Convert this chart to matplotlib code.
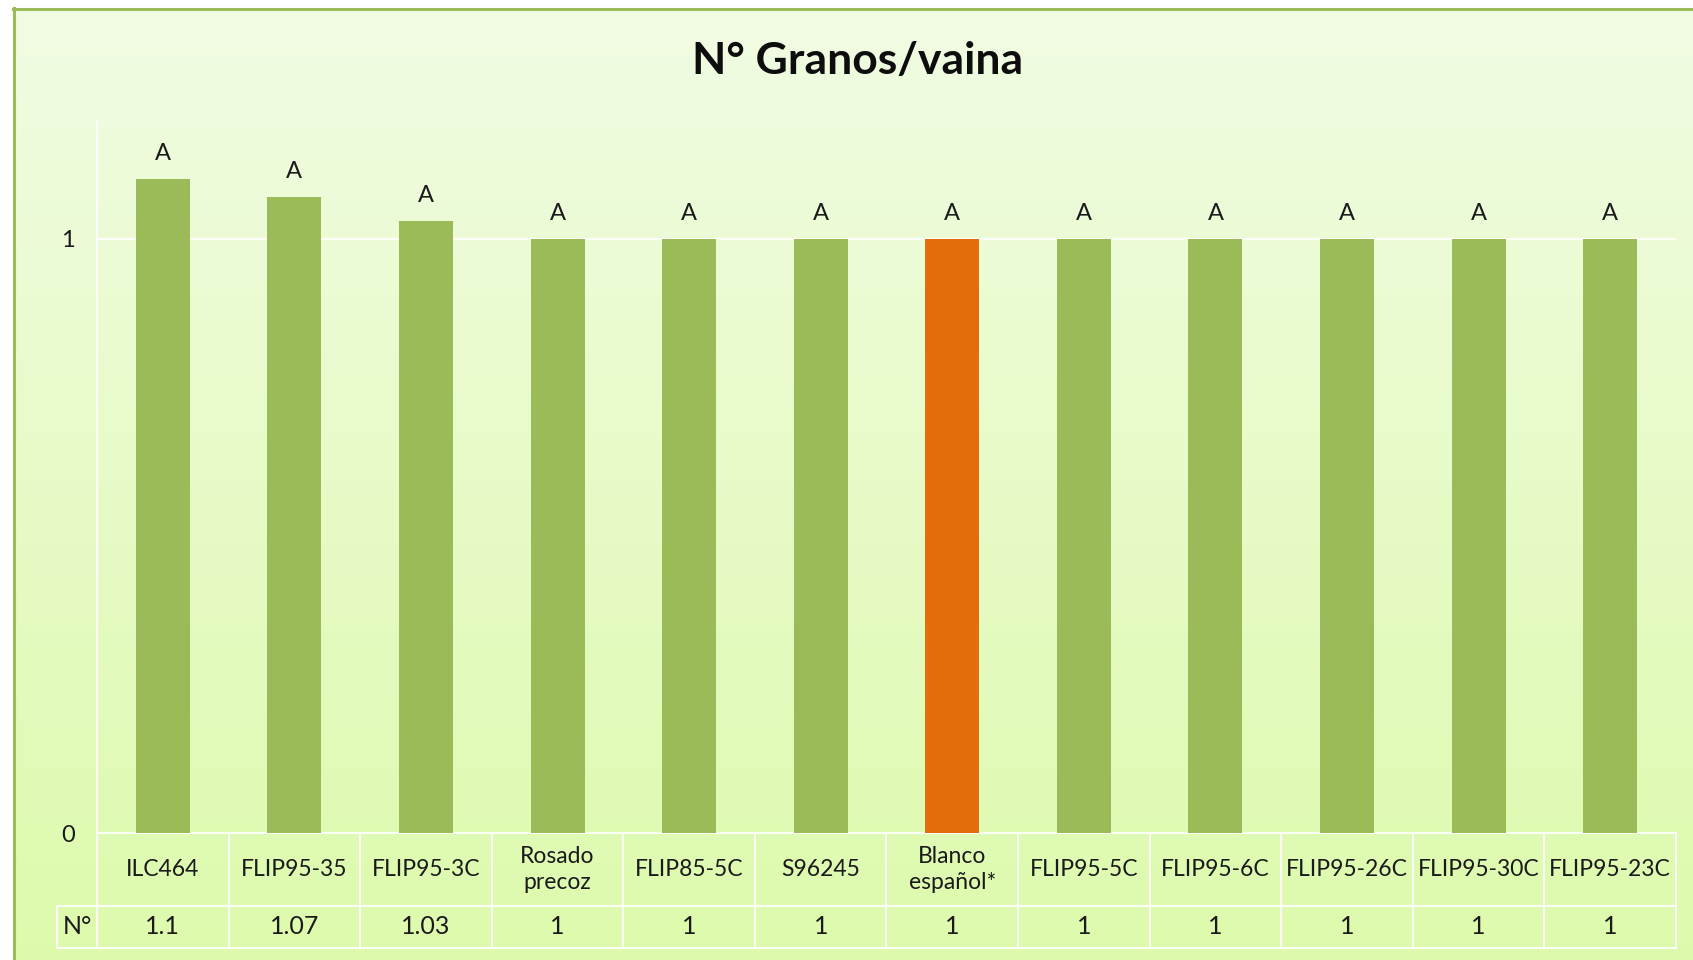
import matplotlib.pyplot as plt
import numpy as np

# Data
varieties = ['ILC464', 'FLIP95-35', 'FLIP95-3C', 'Rosado\nprecoz', 'FLIP85-5C', 'S96245',
             'Blanco\nespañol*', 'FLIP95-5C', 'FLIP95-6C', 'FLIP95-26C', 'FLIP95-30C', 'FLIP95-23C']
granos = [1.1, 1.07, 1.03, 1, 1, 1, 1, 1, 1, 1, 1, 1]
value_labels = ['1.1', '1.07', '1.03', '1', '1', '1', '1', '1', '1', '1', '1', '1']
letters = ['A'] * 12
control = 'Blanco\nespañol*'
row_label = 'N°'
title = 'N° Granos/vaina'

plt.rcParams['font.family'] = ['Lato', 'DejaVu Sans']

W, H = 1693, 960
fig = plt.figure(figsize=(W / 100, H / 100), dpi=100)
fig.patch.set_facecolor('white')

# Gradient background inside the chart frame
bg = fig.add_axes([13 / W, 0, 1 - 13 / W, 1 - 8 / H], zorder=-10)
grad = np.linspace(0, 1, 256)[:, None]
top_c = np.array([241, 252, 227]) / 255
bot_c = np.array([221, 250, 172]) / 255
img = top_c[None, None, :] * (1 - grad[:, :, None]) + bot_c[None, None, :] * grad[:, :, None]
bg.imshow(img, aspect='auto', extent=[0, 1, 0, 1])
bg.axis('off')
fig.add_artist(plt.Line2D([13.5 / W, 13.5 / W], [0, 1 - 8 / H], color='#9BBB59', lw=2.2))
fig.add_artist(plt.Line2D([13 / W, 1], [1 - 8.5 / H, 1 - 8.5 / H], color='#9BBB59', lw=2.2))

# Plot area
left, right, bottom, top = 97, 1676, 833, 120
ax = fig.add_axes([left / W, (H - bottom) / H, (right - left) / W, (bottom - top) / H])
ax.set_facecolor('none')
x = np.arange(len(varieties))
colors = ['#E46C0A' if v == control else '#9BBB59' for v in varieties]
ax.bar(x, granos, width=0.41, color=colors, zorder=3)
ax.set_xlim(-0.5, len(varieties) - 0.5)
ax.set_ylim(0, 1.2)

for xi, yi, lt in zip(x, granos, letters):
    ax.annotate(lt, (xi, yi), xytext=(0, 11), textcoords='offset points',
                ha='center', va='bottom', fontsize=17, color='#1a1a1a')

ax.axhline(1, color='white', lw=1.3, zorder=1)
for s in ['top', 'right', 'bottom']:
    ax.spines[s].set_visible(False)
ax.spines['left'].set_color('white')
ax.spines['left'].set_linewidth(1.3)
ax.set_xticks([])
ax.set_yticks([0, 1])
ax.tick_params(axis='y', length=0, pad=16, labelsize=17, labelcolor='#1a1a1a')

# Data table below the plot
ph = bottom - top
r1 = -73 / ph
r2 = -115 / ph
xl = -0.5 - 40 / ((right - left) / len(varieties))
trans = ax.get_xaxis_transform()
lk = dict(color='white', lw=1.3, clip_on=False, transform=trans)
ax.plot([-0.5, len(varieties) - 0.5], [0, 0], **lk)
ax.plot([xl, len(varieties) - 0.5], [r1, r1], **lk)
ax.plot([xl, len(varieties) - 0.5], [r2, r2], **lk)
ax.plot([xl, xl], [r1, r2], **lk)
for b in np.arange(len(varieties) + 1) - 0.5:
    ax.plot([b, b], [0, r2], **lk)
for xi, name, val in zip(x, varieties, value_labels):
    ax.text(xi, r1 / 2, name, transform=trans, ha='center', va='center',
            fontsize=16.5, color='#1a1a1a', linespacing=1.3)
    ax.text(xi, (r1 + r2) / 2, val, transform=trans, ha='center', va='center',
            fontsize=18, color='#1a1a1a')
ax.text((xl - 0.5) / 2, (r1 + r2) / 2, row_label, transform=trans, ha='center', va='center',
        fontsize=18, color='#1a1a1a')

fig.text(858 / W, 1 - 61 / H, title, ha='center', va='center', fontsize=32,
         fontweight='bold', color='#0d0d0d')

fig.savefig('out.png', dpi=100)
